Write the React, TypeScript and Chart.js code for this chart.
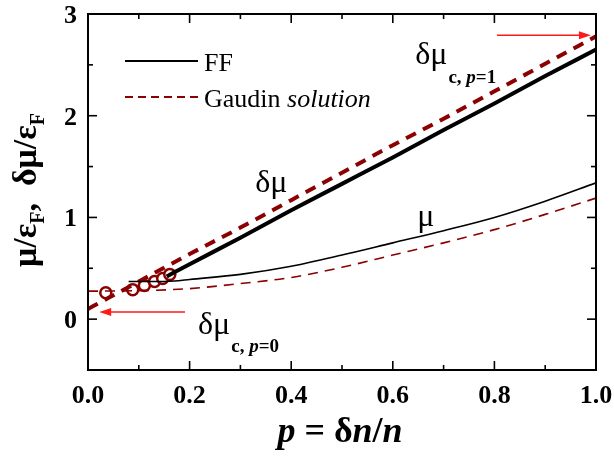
import React, { useEffect, useRef } from "react";
import { Chart, registerables } from "chart.js";

Chart.register(...registerables);

// ---------- data ----------
const gaudinP = [0, 0.1, 0.2, 0.3, 0.4, 0.5, 0.6, 0.7, 0.8, 0.9, 1.0];
const gaudinDeltaMu = [0.1, 0.37, 0.64, 0.9, 1.17, 1.44, 1.71, 1.97, 2.24, 2.51, 2.78];
const gaudinMu = [0.275, 0.28, 0.3, 0.35, 0.41, 0.51, 0.63, 0.75, 0.88, 1.03, 1.19];

const ffDeltaP = [0.155, 0.2, 0.3, 0.4, 0.5, 0.6, 0.7, 0.8, 0.9, 1.0];
const ffDeltaMu = [0.42, 0.54, 0.8, 1.07, 1.33, 1.59, 1.86, 2.12, 2.39, 2.65];

const ffMuP = [0.08, 0.12, 0.17, 0.2, 0.3, 0.4, 0.5, 0.6, 0.7, 0.8, 0.9, 1.0];
const ffMu = [0.37, 0.37, 0.375, 0.39, 0.44, 0.52, 0.63, 0.75, 0.87, 1.0, 1.16, 1.34];

const qmcP = [0.035, 0.088, 0.111, 0.131, 0.147, 0.161];
const qmcVal = [0.26, 0.29, 0.33, 0.37, 0.4, 0.44];

const xMajorTicks = [0, 0.2, 0.4, 0.6, 0.8, 1.0];
const xTickLabels = ["0.0", "0.2", "0.4", "0.6", "0.8", "1.0"];
const xMinorTicks = [0.1, 0.3, 0.5, 0.7, 0.9];
const yMajorTicks = [0, 1, 2, 3];
const yTickLabels = ["0", "1", "2", "3"];
const yMinorTicks = [-0.5, 0.5, 1.5, 2.5];

const DARKRED = "#8b0000";
const ARROW = "#ff1a1a";
const SERIF = '"Liberation Serif", "Times New Roman", serif';

const zip = (xs: number[], ys: number[]) => xs.map((x, i) => ({ x, y: ys[i] }));

const App: React.FC = () => {
  const ref = useRef<HTMLCanvasElement | null>(null);

  useEffect(() => {
    document.body.style.margin = "0";
    const canvas = ref.current!;

    const deco = {
      id: "deco",
      afterDraw(chart: any) {
        const ctx: CanvasRenderingContext2D = chart.ctx;
        const { left, right, top, bottom } = chart.chartArea;
        const xs = chart.scales.x;
        const ys = chart.scales.y;
        const X = (v: number) => xs.getPixelForValue(v);
        const Y = (v: number) => ys.getPixelForValue(v);
        ctx.save();

        // frame
        ctx.strokeStyle = "#000";
        ctx.lineWidth = 2;
        ctx.strokeRect(left, top, right - left, bottom - top);

        // ticks
        ctx.lineWidth = 1.6;
        const tick = (x1: number, y1: number, x2: number, y2: number) => {
          ctx.beginPath();
          ctx.moveTo(x1, y1);
          ctx.lineTo(x2, y2);
          ctx.stroke();
        };
        xMajorTicks.forEach((v) => {
          tick(X(v), bottom, X(v), bottom - 9);
          tick(X(v), top, X(v), top + 9);
        });
        xMinorTicks.forEach((v) => {
          tick(X(v), bottom, X(v), bottom - 5);
          tick(X(v), top, X(v), top + 5);
        });
        yMajorTicks.forEach((v) => {
          tick(left, Y(v), left + 9, Y(v));
          tick(right, Y(v), right - 9, Y(v));
        });
        yMinorTicks.forEach((v) => {
          tick(left, Y(v), left + 5, Y(v));
          tick(right, Y(v), right - 5, Y(v));
        });

        // tick labels
        ctx.fillStyle = "#000";
        ctx.font = `bold 26px ${SERIF}`;
        ctx.textAlign = "center";
        ctx.textBaseline = "alphabetic";
        xMajorTicks.forEach((v, i) => ctx.fillText(xTickLabels[i], X(v), bottom + 33));
        ctx.textAlign = "right";
        yMajorTicks.forEach((v, i) => ctx.fillText(yTickLabels[i], left - 11, Y(v) + 9));

        // helper for rich text runs
        const runs = (
          parts: { t: string; font: string; dy?: number }[],
          x: number,
          y: number
        ) => {
          ctx.textAlign = "left";
          let cx = x;
          parts.forEach((p) => {
            ctx.font = p.font;
            ctx.fillText(p.t, cx, y + (p.dy || 0));
            cx += ctx.measureText(p.t).width;
          });
          return cx;
        };

        // x title
        const xt = [
          { t: "p", font: `italic bold 36px ${SERIF}` },
          { t: " = δ", font: `bold 36px ${SERIF}` },
          { t: "n", font: `italic bold 36px ${SERIF}` },
          { t: "/", font: `bold 36px ${SERIF}` },
          { t: "n", font: `italic bold 36px ${SERIF}` },
        ];
        let w = 0;
        xt.forEach((p) => {
          ctx.font = p.font;
          w += ctx.measureText(p.t).width;
        });
        runs(xt, (left + right) / 2 - w / 2 - 2, 442);

        // y title (rotated)
        ctx.save();
        ctx.translate(36, (top + bottom) / 2 - 2);
        ctx.rotate(-Math.PI / 2);
        const big = `bold 34px ${SERIF}`;
        const sub = `bold 20px ${SERIF}`;
        const yt = [
          { t: "μ/ε", font: big },
          { t: "F", font: sub, dy: 8 },
          { t: ",  δμ/ε", font: big },
          { t: "F", font: sub, dy: 8 },
        ];
        let wy = 0;
        yt.forEach((p) => {
          ctx.font = p.font;
          wy += ctx.measureText(p.t).width;
        });
        runs(yt, -wy / 2, 0);
        ctx.restore();

        // legend
        ctx.lineWidth = 1.8;
        ctx.strokeStyle = "#000";
        ctx.setLineDash([]);
        tick(left + 37, top + 47, left + 110, top + 47);
        ctx.strokeStyle = DARKRED;
        ctx.setLineDash([8, 5]);
        tick(left + 37, top + 83, left + 110, top + 83);
        ctx.setLineDash([]);
        runs([{ t: "FF", font: `26px ${SERIF}` }], left + 116, top + 57);
        runs(
          [
            { t: "Gaudin ", font: `26px ${SERIF}` },
            { t: "solution", font: `italic 26px ${SERIF}` },
          ],
          left + 116,
          top + 93
        );

        // curve labels
        runs([{ t: "δμ", font: `32px ${SERIF}` }], X(0.329), Y(1.25));
        runs([{ t: "μ", font: `32px ${SERIF}` }], X(0.648), Y(0.915));
        const sb = `bold 19px ${SERIF}`;
        const sbi = `italic bold 19px ${SERIF}`;
        let ex = runs([{ t: "δμ", font: `32px ${SERIF}` }], X(0.644), Y(2.507));
        runs(
          [
            { t: "c, ", font: sb },
            { t: "p", font: sbi },
            { t: "=1", font: sb },
          ],
          ex + 1,
          Y(2.507) + 19
        );
        ex = runs([{ t: "δμ", font: `32px ${SERIF}` }], X(0.2165), Y(-0.147));
        runs(
          [
            { t: "c, ", font: sb },
            { t: "p", font: sbi },
            { t: "=0", font: sb },
          ],
          ex + 1,
          Y(-0.147) + 18
        );

        // arrows
        const arrow = (x1: number, y1: number, x2: number, y2: number) => {
          ctx.strokeStyle = ARROW;
          ctx.fillStyle = ARROW;
          ctx.lineWidth = 1.5;
          const dir = Math.sign(x2 - x1);
          ctx.beginPath();
          ctx.moveTo(x1, y1);
          ctx.lineTo(x2 - dir * 8, y2);
          ctx.stroke();
          ctx.beginPath();
          ctx.moveTo(x2, y2);
          ctx.lineTo(x2 - dir * 12, y2 - 4);
          ctx.lineTo(x2 - dir * 12, y2 + 4);
          ctx.closePath();
          ctx.fill();
        };
        arrow(X(0.805), Y(2.79), X(0.99), Y(2.79));
        arrow(X(0.191), Y(0.069), X(0.022), Y(0.069));

        ctx.restore();
      },
    };

    const chart = new Chart(canvas, {
      type: "line",
      data: {
        datasets: [
          {
            data: zip(gaudinP, gaudinMu),
            borderColor: DARKRED,
            borderWidth: 1.6,
            borderDash: [10, 7],
            pointRadius: 0,
            cubicInterpolationMode: "monotone",
            fill: false,
          },
          {
            data: zip(ffMuP, ffMu),
            borderColor: "#000",
            borderWidth: 1.6,
            pointRadius: 0,
            cubicInterpolationMode: "monotone",
            fill: false,
          },
          {
            data: zip(ffDeltaP, ffDeltaMu),
            borderColor: "#000",
            borderWidth: 4,
            pointRadius: 0,
            cubicInterpolationMode: "monotone",
            fill: false,
          },
          {
            data: zip(gaudinP, gaudinDeltaMu),
            borderColor: DARKRED,
            borderWidth: 4,
            borderDash: [11, 8],
            pointRadius: 0,
            cubicInterpolationMode: "monotone",
            fill: false,
          },
          {
            data: zip(qmcP, qmcVal),
            showLine: false,
            borderColor: DARKRED,
            backgroundColor: "#fff",
            pointBorderColor: DARKRED,
            pointBackgroundColor: "#fff",
            pointBorderWidth: 2.5,
            pointRadius: 5.5,
          },
        ],
      } as any,
      options: {
        animation: false,
        responsive: false,
        maintainAspectRatio: false,
        layout: { padding: { left: 88, top: 14, right: 18, bottom: 86 } },
        plugins: { legend: { display: false }, tooltip: { enabled: false } },
        scales: {
          x: { type: "linear", min: 0, max: 1, display: false },
          y: { type: "linear", min: -0.5, max: 3, display: false },
        },
      },
      plugins: [deco],
    });
    return () => chart.destroy();
  }, []);

  return <canvas ref={ref} width={614} height={456} style={{ display: "block" }} />;
};

export default App;
